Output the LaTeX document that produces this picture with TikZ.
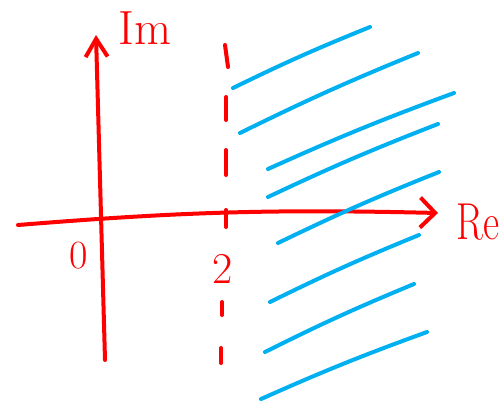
\documentclass[tikz,border=0pt]{standalone}
\usepackage{xcolor}
\usepackage{graphicx}
\usetikzlibrary{arrows.meta}

\definecolor{penred}{RGB}{255,0,0}
\definecolor{penblue}{RGB}{0,176,240}

\begin{document}
\begin{tikzpicture}[
    x=0.5pt, y=0.5pt,
    axis/.style={draw=penred, line width=2pt, line cap=round},
    dashmark/.style={draw=penred, line width=2pt, line cap=round},
    hatch/.style={draw=penblue, line width=2pt, line cap=round},
    lbl/.style={text=penred, inner sep=0pt}
]
    \useasboundingbox (0,0) rectangle (502,403);

    % axes
    \coordinate (imfoot) at (105,43);
    \coordinate (imtip) at (96,368);
    \coordinate (refoot) at (18,178);
    \coordinate (retip) at (438,190);
    \draw [axis, -{Straight Barb[length=9pt,width=11pt]}] (imfoot) -- (imtip);
    \draw [axis, -{Straight Barb[length=7.5pt,width=15pt]}] (refoot) to[bend left=3] (retip);

    \node [lbl, font=\fontsize{24}{28}\selectfont] (im) at (145,375) {Im};
    \node [lbl, font=\fontsize{26}{30}\selectfont, anchor=west] (re) at (456,181) {\scalebox{0.76}[1]{Re}};
    \node [lbl, font=\fontsize{20}{24}\selectfont] (zero) at (79,147) {0};
    \node [lbl, font=\fontsize{22}{26}\selectfont] (two) at (223,134) {2};

    % the line Re = 2
    \foreach \xa/\ya/\xb/\yb in {225/358/228/336, 226/306/226/283, 226/253/226/228,
                                 226/193/226/176, 222/101/222/88, 221/55/221/40}
        \draw [dashmark] (\xa,\ya) -- (\xb,\yb);

    % shaded half plane
    \foreach \xa/\ya/\xb/\yb in {233/315/370/376, 240/270/418/350, 268/234/454/310,
                                 268/206/438/279, 278/160/439/231, 270/101/419/168,
                                 265/51/414/119, 261/4/427/71}
        \draw [hatch] (\xa,\ya) to[bend left=2] (\xb,\yb);

\end{tikzpicture}
\end{document}
